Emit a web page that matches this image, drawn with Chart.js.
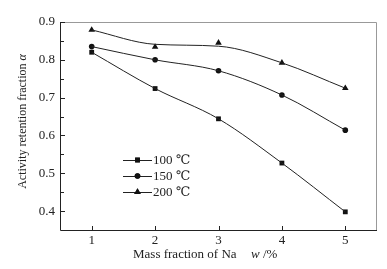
<!DOCTYPE html>
<html>
<head>
<meta charset="utf-8">
<script src="https://cdn.jsdelivr.net/npm/chart.js@4.4.0/dist/chart.umd.min.js"></script>
<style>
  html, body { margin: 0; padding: 0; background: #fff; }
  #wrap { width: 387px; height: 269px; }
</style>
</head>
<body>
<div id="wrap"><canvas id="chart1" width="387" height="269"></canvas></div>
<script>
// Datos
const massFraction = [1, 2, 3, 4, 5];
const alpha100 = [0.820, 0.724, 0.644, 0.527, 0.398];
const alpha150 = [0.835, 0.800, 0.771, 0.707, 0.614];
const alpha200 = [0.879, 0.834, 0.845, 0.792, 0.725];
// curvas ajustadas (valor de la curva en cada x)
const fit100 = [0.820, 0.724, 0.644, 0.527, 0.398];
const fit150 = [0.835, 0.800, 0.771, 0.707, 0.614];
const fit200 = [0.879, 0.841, 0.836, 0.792, 0.725];
const seriesLabels = ['100 ℃', '150 ℃', '200 ℃'];
const markerStyles = ['rect', 'circle', 'triangle'];
const yTicks = [0.4, 0.5, 0.6, 0.7, 0.8, 0.9];

const serif = "'Liberation Serif', 'DejaVu Serif', serif";

function toPoints(xs, ys) {
    return xs.map((x, i) => ({ x: x, y: ys[i] }));
}

function curveDataset(ys) {
    return {
        data: toPoints(massFraction, ys),
        borderColor: '#222',
        borderWidth: 1,
        pointRadius: 0,
        cubicInterpolationMode: 'monotone',
        fill: false,
    };
}

function markerDataset(label, ys, style) {
    const sizes = { rect: 3.4, circle: 2.8, triangle: 3.8 };
    return {
        label: label,
        data: toPoints(massFraction, ys),
        showLine: false,
        pointStyle: style,
        pointRadius: sizes[style],
        backgroundColor: '#111',
        borderColor: '#111',
        borderWidth: 0,
    };
}

// ticks hacia adentro, marco, leyenda y títulos de ejes
const decorPlugin = {
    id: 'decor',
    afterDraw(chart) {
        const ctx = chart.ctx;
        const a = chart.chartArea;
        const xs = chart.scales.x;
        const ys = chart.scales.y;
        ctx.save();

        // marco superior y derecho (gris)
        ctx.strokeStyle = '#999';
        ctx.lineWidth = 1;
        ctx.beginPath();
        ctx.moveTo(a.left, a.top + 0.5);
        ctx.lineTo(a.right - 0.5, a.top + 0.5);
        ctx.lineTo(a.right - 0.5, a.bottom);
        ctx.stroke();

        // ejes izquierdo e inferior
        ctx.strokeStyle = '#222';
        ctx.beginPath();
        ctx.moveTo(a.left + 0.5, a.top);
        ctx.lineTo(a.left + 0.5, a.bottom + 0.5);
        ctx.lineTo(a.right, a.bottom + 0.5);
        ctx.stroke();

        // ticks mayores y menores del eje y
        ctx.beginPath();
        for (let v = 0.4; v <= 0.901; v += 0.05) {
            const py = Math.round(ys.getPixelForValue(v)) + 0.5;
            const major = Math.abs(v * 10 - Math.round(v * 10)) < 0.01;
            ctx.moveTo(a.left, py);
            ctx.lineTo(a.left + (major ? 5 : 4), py);
        }
        // ticks del eje x
        massFraction.forEach((m) => {
            const px = Math.round(xs.getPixelForValue(m)) + 0.5;
            ctx.moveTo(px, a.bottom);
            ctx.lineTo(px, a.bottom - 4);
        });
        ctx.stroke();

        // leyenda
        const rowsY = [160, 176, 192];
        chart.data.datasets.filter((d) => d.label).forEach((d, i) => {
            const y = rowsY[i];
            ctx.strokeStyle = '#222';
            ctx.beginPath();
            ctx.moveTo(123, y + 0.5);
            ctx.lineTo(152, y + 0.5);
            ctx.stroke();
            ctx.fillStyle = '#111';
            Chart.helpers.drawPoint(ctx, { pointStyle: d.pointStyle, radius: d.pointRadius, rotation: 0, borderWidth: 0 }, 137.5, y);
            ctx.fill();
            ctx.fillStyle = '#222';
            ctx.font = '13px ' + serif;
            ctx.textBaseline = 'middle';
            ctx.textAlign = 'left';
            ctx.fillText(d.label, 153, y + 1);
        });

        // título eje x
        ctx.fillStyle = '#222';
        ctx.textBaseline = 'alphabetic';
        ctx.font = '13px ' + serif;
        ctx.fillText('Mass fraction of Na', 133, 258);
        ctx.font = 'italic 13px ' + serif;
        ctx.fillText('w', 251, 258);
        const ww = ctx.measureText('w ').width;
        ctx.font = '13px ' + serif;
        ctx.fillText('/%', 251 + ww, 258);

        // título eje y (rotado)
        ctx.translate(26, 121.5);
        ctx.rotate(-Math.PI / 2);
        ctx.font = '12px ' + serif;
        const t1 = 'Activity retention fraction ';
        const w1 = ctx.measureText(t1).width;
        ctx.font = 'italic 12px ' + serif;
        const w2 = ctx.measureText('α').width;
        const start = -(w1 + w2) / 2;
        ctx.font = '12px ' + serif;
        ctx.fillText(t1, start, 0);
        ctx.font = 'italic 12px ' + serif;
        ctx.fillText('α', start + w1, 0);

        ctx.restore();
    },
};

function createChart() {
    const ctx = document.getElementById('chart1').getContext('2d');
    const chartData = {
        datasets: [
            curveDataset(fit100),
            curveDataset(fit150),
            curveDataset(fit200),
            markerDataset(seriesLabels[0], alpha100, markerStyles[0]),
            markerDataset(seriesLabels[1], alpha150, markerStyles[1]),
            markerDataset(seriesLabels[2], alpha200, markerStyles[2]),
        ],
    };
    const chartOptions = {
        responsive: false,
        animation: false,
        layout: { padding: { top: 22, right: 10, left: 0, bottom: 0 } },
        plugins: {
            legend: { display: false },
            tooltip: { enabled: false },
        },
        scales: {
            x: {
                type: 'linear',
                min: 0.5,
                max: 5.5,
                afterBuildTicks: (s) => { s.ticks = massFraction.map((v) => ({ value: v })); },
                afterFit: (s) => { s.height = 39; },
                grid: { display: false, drawTicks: false },
                border: { display: false },
                ticks: {
                    padding: 3,
                    color: '#222',
                    font: { family: serif, size: 13 },
                },
            },
            y: {
                min: 0.35,
                max: 0.9,
                afterBuildTicks: (s) => { s.ticks = yTicks.map((v) => ({ value: v })); },
                afterFit: (s) => { s.width = 60; },
                grid: { display: false, drawTicks: false },
                border: { display: false },
                ticks: {
                    padding: 5,
                    color: '#222',
                    font: { family: serif, size: 13 },
                    callback: (v) => v.toFixed(1),
                },
            },
        },
    };

    new Chart(ctx, {
        type: 'line',
        data: chartData,
        options: chartOptions,
        plugins: [decorPlugin],
    });
}

createChart();
</script>
</body>
</html>
